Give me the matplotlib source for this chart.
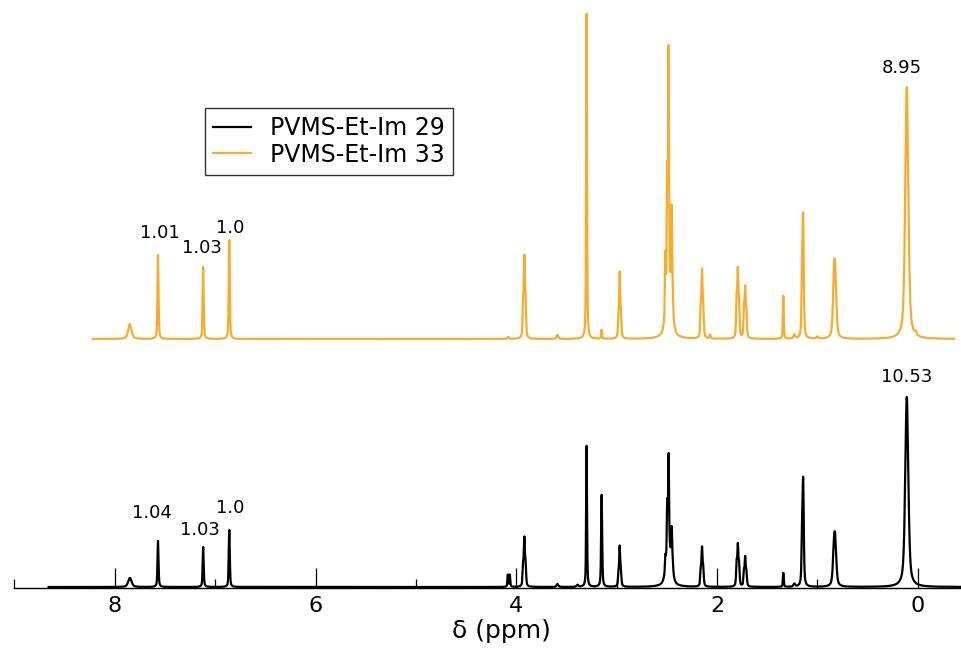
import numpy as np
import matplotlib.pyplot as plt

# peak lists: position (ppm), height (arb.), half width (ppm)
pos_29 = [7.85, 7.57, 7.12, 6.86, 4.085, 4.065, 3.932, 3.92, 3.908, 3.59, 3.39, 3.30,
          3.15, 2.982, 2.97, 2.958, 2.48, 2.515, 2.497, 2.483, 2.452, 2.44,
          2.162, 2.15, 2.138, 1.805, 1.793, 1.781, 1.732, 1.72, 1.708, 1.34, 1.23,
          1.152, 1.142, 0.835, 0.822, 0.11]
amp_29 = [9, 46, 40, 57, 12, 12, 20, 45, 20, 3, 2, 141,
          92, 12, 38, 12, 38, 14, 52, 92, 38, 6,
          16, 36, 16, 22, 38, 20, 14, 27, 13, 14, 3,
          48, 95, 33, 35, 190]
wid_29 = [0.02, 0.006, 0.006, 0.006, 0.005, 0.005, 0.006, 0.006, 0.006, 0.01, 0.01, 0.005,
          0.006, 0.006, 0.006, 0.006, 0.03, 0.005, 0.005, 0.005, 0.006, 0.005,
          0.006, 0.006, 0.006, 0.006, 0.006, 0.006, 0.006, 0.006, 0.006, 0.005, 0.01,
          0.007, 0.007, 0.013, 0.013, 0.018]

pos_33 = [7.85, 7.57, 7.12, 6.86, 4.08, 3.932, 3.92, 3.908, 3.59, 3.30, 3.15,
          2.982, 2.97, 2.958, 2.48, 2.515, 2.497, 2.483, 2.452, 2.44,
          2.162, 2.15, 2.138, 2.07, 1.805, 1.793, 1.781, 1.732, 1.72, 1.708, 1.34, 1.23,
          1.152, 1.142, 1.0, 0.835, 0.822, 0.11, 0.02]
amp_33 = [15, 84, 72, 99, 2, 34, 75, 34, 4, 325, 9,
          20, 62, 20, 54, 58, 118, 230, 100, 12,
          30, 62, 30, 4, 38, 62, 32, 28, 46, 24, 43, 4,
          58, 108, 2, 48, 50, 252, 3]
wid_33 = [0.02, 0.006, 0.006, 0.006, 0.01, 0.006, 0.006, 0.006, 0.01, 0.005, 0.005,
          0.006, 0.006, 0.006, 0.03, 0.005, 0.005, 0.005, 0.006, 0.005,
          0.006, 0.006, 0.006, 0.006, 0.006, 0.006, 0.006, 0.006, 0.006, 0.006, 0.005, 0.01,
          0.007, 0.007, 0.01, 0.013, 0.013, 0.018, 0.01]

# integral labels: text, ppm, height
lab_29 = ["1.04", "1.03", "1.0", "10.53"]
lab_29_x = [7.63, 7.15, 6.85, 0.11]
lab_29_y = [75, 58, 80, 211]
lab_33 = ["1.01", "1.03", "1.0", "8.95"]
lab_33_x = [7.55, 7.13, 6.85, 0.16]
lab_33_y = [355, 340, 360, 520]

range_29 = (8.66, -0.45)
range_33 = (8.22, -0.36)
offset_29 = 1
offset_33 = 249

black = "black"
orange = "#F7AC2B"


def spectrum(x, pos, amp, wid, eta=0.55):
    # pseudo-Voigt line shapes
    y = np.zeros_like(x)
    for p, a, w in zip(pos, amp, wid):
        lor = w**2 / ((x - p) ** 2 + w**2)
        gau = np.exp(-np.log(2) * ((x - p) / w) ** 2)
        y += a * (eta * lor + (1 - eta) * gau)
    return y


x29 = np.arange(range_29[1], range_29[0], 0.0005)
x33 = np.arange(range_33[1], range_33[0], 0.0005)
y29 = spectrum(x29, pos_29, amp_29, wid_29) + offset_29
y33 = spectrum(x33, pos_33, amp_33, wid_33) + offset_33

plt.rcParams["font.family"] = "DejaVu Sans"
fig = plt.figure(figsize=(9.61, 6.54), dpi=100)
ax = fig.add_axes([14.5 / 961, 66 / 654, 1 - 14.5 / 961, 588 / 654])

ax.plot(x29, y29, color=black, lw=1.6, label="PVMS-Et-Im 29")
ax.plot(x33, y33, color=orange, lw=1.6, label="PVMS-Et-Im 33")

for t, xx, yy in zip(lab_29, lab_29_x, lab_29_y):
    ax.text(xx, yy, t, ha="center", va="center", fontsize=13)
for t, xx, yy in zip(lab_33, lab_33_x, lab_33_y):
    ax.text(xx, yy, t, ha="center", va="center", fontsize=13)

ax.set_xlim(9.0, -0.43)
ax.set_ylim(0, 588)
ax.set_xticks([8, 6, 4, 2, 0])
ax.set_xticks(np.arange(0, 10, 1), minor=True)
ax.tick_params(axis="x", which="major", direction="in", length=14.5, width=0.9,
               labelsize=16, pad=6)
ax.tick_params(axis="x", which="minor", direction="in", length=6.5, width=0.9)
ax.set_yticks([])
for s in ["top", "left", "right"]:
    ax.spines[s].set_visible(False)
ax.spines["bottom"].set_linewidth(1.0)
ax.set_xlabel("δ (ppm)", fontsize=18)
ax.xaxis.set_label_coords(0.514, -0.053)

leg = ax.legend(loc="upper left", bbox_to_anchor=(205 / 961, 1 - 108 / 654),
                bbox_transform=fig.transFigure, fontsize=17, frameon=True,
                fancybox=False, edgecolor="black", borderaxespad=0,
                handlelength=1.6, handletextpad=0.8, labelspacing=0.1,
                borderpad=0.35)
leg.get_frame().set_linewidth(1.0)

fig.savefig("out.png", dpi=100)
